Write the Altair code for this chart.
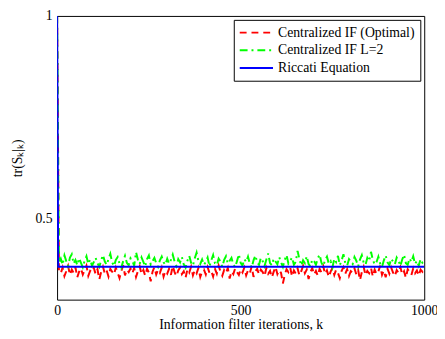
import altair as alt
import pandas as pd

series_names = ["Centralized IF (Optimal)", "Centralized IF L=2", "Riccati Equation"]
series_colors = ["#ff0000", "#00ff00", "#0000ff"]
series_dashes = [[7, 5], [8, 4, 2, 4], [1, 0]]

x_ticks = [0, 500, 1000]
y_ticks = [0.5, 1.0]

k_noisy = [0] + list(range(5, 1001, 5))

green_vals = [1.0,
    0.392, 0.401, 0.386, 0.409, 0.395, 0.383, 0.404, 0.412, 0.389, 0.398, 0.385, 0.402, 0.391, 0.380, 0.396, 0.407, 0.388, 0.399, 0.384, 0.393,
    0.403, 0.390, 0.381, 0.397, 0.410, 0.394, 0.386, 0.400, 0.413, 0.392, 0.383, 0.398, 0.405, 0.389, 0.379, 0.395, 0.408, 0.391, 0.385, 0.402,
    0.396, 0.384, 0.417, 0.399, 0.388, 0.404, 0.393, 0.382, 0.400, 0.409, 0.387, 0.395, 0.403, 0.390, 0.381, 0.397, 0.406, 0.392, 0.386, 0.401,
    0.389, 0.398, 0.411, 0.394, 0.383, 0.400, 0.392, 0.405, 0.387, 0.379, 0.396, 0.408, 0.391, 0.384, 0.402, 0.416, 0.395, 0.388, 0.399, 0.386,
    0.393, 0.404, 0.382, 0.397, 0.410, 0.390, 0.385, 0.401, 0.394, 0.381, 0.398, 0.407, 0.389, 0.396, 0.403, 0.387, 0.380, 0.395, 0.412, 0.391,
    0.384, 0.400, 0.393, 0.406, 0.388, 0.379, 0.397, 0.409, 0.392, 0.386, 0.403, 0.395, 0.383, 0.399, 0.414, 0.390, 0.385, 0.401, 0.394, 0.387,
    0.405, 0.392, 0.381, 0.398, 0.410, 0.389, 0.396, 0.404, 0.386, 0.393, 0.420, 0.400, 0.384, 0.397, 0.390, 0.407, 0.388, 0.382, 0.399, 0.395,
    0.386, 0.402, 0.411, 0.391, 0.383, 0.398, 0.406, 0.389, 0.395, 0.380, 0.401, 0.393, 0.408, 0.385, 0.397, 0.412, 0.390, 0.384, 0.400, 0.394,
    0.388, 0.405, 0.396, 0.382, 0.399, 0.410, 0.391, 0.386, 0.403, 0.395, 0.418, 0.398, 0.387, 0.393, 0.406, 0.389, 0.381, 0.397, 0.409, 0.392,
    0.385, 0.401, 0.394, 0.387, 0.404, 0.396, 0.383, 0.399, 0.411, 0.390, 0.386, 0.402, 0.393, 0.407, 0.388, 0.396, 0.384, 0.400, 0.391, 0.395]

red_vals = [1.0,
    0.372, 0.365, 0.379, 0.358, 0.370, 0.383, 0.361, 0.374, 0.366, 0.380, 0.355, 0.369, 0.377, 0.362, 0.373, 0.384, 0.359, 0.371, 0.367, 0.378,
    0.363, 0.375, 0.350, 0.368, 0.381, 0.364, 0.372, 0.357, 0.376, 0.369, 0.362, 0.379, 0.366, 0.353, 0.371, 0.385, 0.360, 0.374, 0.368, 0.377,
    0.365, 0.378, 0.356, 0.370, 0.382, 0.363, 0.373, 0.359, 0.376, 0.367, 0.345, 0.369, 0.380, 0.362, 0.374, 0.366, 0.379, 0.357, 0.371, 0.364,
    0.376, 0.361, 0.383, 0.368, 0.358, 0.372, 0.379, 0.363, 0.370, 0.354, 0.375, 0.367, 0.381, 0.360, 0.373, 0.365, 0.378, 0.356, 0.369, 0.374,
    0.362, 0.380, 0.366, 0.371, 0.357, 0.376, 0.364, 0.384, 0.369, 0.359, 0.373, 0.366, 0.378, 0.352, 0.370, 0.363, 0.377, 0.368, 0.361, 0.375,
    0.367, 0.379, 0.360, 0.372, 0.365, 0.382, 0.356, 0.370, 0.376, 0.362, 0.374, 0.368, 0.358, 0.378, 0.364, 0.371, 0.355, 0.369, 0.381, 0.363,
    0.373, 0.366, 0.340, 0.361, 0.375, 0.368, 0.379, 0.357, 0.372, 0.364, 0.377, 0.360, 0.370, 0.383, 0.365, 0.374, 0.351, 0.368, 0.378, 0.362,
    0.371, 0.359, 0.376, 0.367, 0.382, 0.363, 0.372, 0.356, 0.369, 0.378, 0.361, 0.374, 0.366, 0.353, 0.371, 0.380, 0.364, 0.375, 0.358, 0.370,
    0.366, 0.377, 0.362, 0.373, 0.348, 0.368, 0.381, 0.360, 0.371, 0.365, 0.378, 0.357, 0.374, 0.363, 0.369, 0.384, 0.361, 0.372, 0.355, 0.376,
    0.364, 0.379, 0.367, 0.358, 0.373, 0.366, 0.380, 0.362, 0.370, 0.354, 0.375, 0.368, 0.361, 0.377, 0.365, 0.372, 0.359, 0.374, 0.369, 0.378]

k_riccati = [0, 3, 1000]
riccati_vals = [1.0, 0.381, 0.381]

df_red = pd.DataFrame({"k": k_noisy, "v": red_vals, "series": series_names[0]})
df_green = pd.DataFrame({"k": k_noisy, "v": green_vals, "series": series_names[1]})
df_blue = pd.DataFrame({"k": k_riccati, "v": riccati_vals, "series": series_names[2]})

FONT = "Liberation Serif"

x_enc = alt.X("k:Q", scale=alt.Scale(domain=[0, 1000], nice=False),
              axis=alt.Axis(values=x_ticks, title="Information filter iterations, k",
                            format="d", ticks=False, domain=False, grid=False, labelPadding=4,
                            titlePadding=0, labelFlush=False))
y_enc = alt.Y("v:Q", scale=alt.Scale(domain=[0.3, 1.0], nice=False, zero=False),
              axis=alt.Axis(values=y_ticks, title="tr(S\u2096|\u2096)",
                            labelExpr="datum.value == 1 ? '1' : format(datum.value, '.1f')",
                            ticks=False, domain=False, grid=False, labelPadding=5,
                            titlePadding=11, labelFlush=False))
color_enc = alt.Color("series:N", scale=alt.Scale(domain=series_names, range=series_colors),
                      legend=alt.Legend(title=None))
dash_enc = alt.StrokeDash("series:N", scale=alt.Scale(domain=series_names, range=series_dashes),
                          legend=alt.Legend(title=None))

def layer(df):
    return alt.Chart(df).mark_line(strokeWidth=2, clip=True).encode(
        x=x_enc, y=y_enc, color=color_enc, strokeDash=dash_enc)

chart = alt.layer(layer(df_red), layer(df_green), layer(df_blue)).properties(
    width=374, height=289,
    autosize=alt.AutoSizeParams(type="none"),
    padding={"left": 50, "top": 5, "right": 13, "bottom": 37},
).configure_view(
    stroke="black", strokeWidth=1
).configure_axis(
    labelFont=FONT, titleFont=FONT, labelFontSize=14, titleFontSize=14,
    labelColor="black", titleColor="black", titleFontWeight="normal"
).configure_legend(
    orient="top-right", offset=4, strokeColor="black", fillColor="white",
    padding=5, labelFont=FONT, labelFontSize=14, labelColor="black",
    symbolType="stroke", symbolStrokeWidth=2, symbolSize=1150, clipHeight=16,
    rowPadding=2, labelOffset=4, cornerRadius=0
)

chart.save("out.html", embed_options={"renderer": "svg", "actions": False})
